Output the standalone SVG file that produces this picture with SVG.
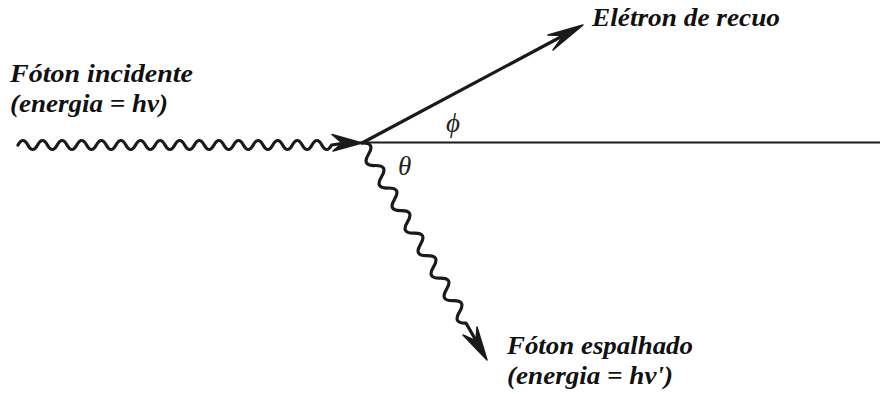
<svg xmlns="http://www.w3.org/2000/svg" width="880" height="394" viewBox="0 0 880 394">
<style>
.lbl{font-family:"Liberation Serif","Times New Roman",serif;font-weight:bold;font-style:italic;font-size:26px;fill:#111}
.ang{font-family:"Liberation Serif","Times New Roman",serif;font-style:italic;font-size:27px;fill:#222}
.wave{fill:none;stroke:#1a1a1a;stroke-width:3.2;stroke-linejoin:round;stroke-linecap:round}
.line{fill:none;stroke:#1a1a1a;stroke-linecap:round}
.head{fill:#1a1a1a;stroke:#1a1a1a;stroke-width:1.5;stroke-linejoin:round}
</style>
<rect width="880" height="394" fill="#fff"/>
<g id="connectors">
  <path class="line" stroke-width="2" d="M360 142.5 H880"/>
  <path class="wave" d="M18 145 q4.9 -9 9.8 0 t9.8 0 t9.8 0 t9.8 0 t9.8 0 t9.8 0 t9.8 0 t9.8 0 t9.8 0 t9.8 0 t9.8 0 t9.8 0 t9.8 0 t9.8 0 t9.8 0 t9.8 0 t9.8 0 t9.8 0 t9.8 0 t9.8 0 t9.8 0 t9.8 0 t9.8 0 t9.8 0 t9.8 0 t9.8 0 t9.8 0 t9.8 0 t9.8 0 t9.8 0 t9.8 0 t9.8 0 L345 143"/>
  <polygon class="head" points="362,143 332,134.5 342,143 333,151"/>
  <path class="line" stroke-width="3.2" d="M362 143 L570 32"/>
  <polygon class="head" points="583,25 548,35 563.5,35.5 553,50"/>
  <g transform="translate(362,143) rotate(60)">
    <path class="wave" d="M0 0 q6.5 -12 13 0 t13 0 t13 0 t13 0 t13 0 t13 0 t13 0 t13 0 t13 0 t13 0 t13 0 t13 0 t13 0 t13 0 t13 0 t13 0 L228 0"/>
  </g>
  <polygon class="head" points="487,360 463,335 476,341 477,327"/>
</g>
<g id="incident-label">
  <text class="lbl" x="10" y="82" textLength="183" lengthAdjust="spacingAndGlyphs">Fóton incidente</text>
  <text class="lbl" x="10" y="112" textLength="158" lengthAdjust="spacingAndGlyphs">(energia = hν)</text>
</g>
<g id="electron-label">
  <text class="lbl" x="592" y="26" textLength="188" lengthAdjust="spacingAndGlyphs">Elétron de recuo</text>
</g>
<g id="scattered-label">
  <text class="lbl" x="507" y="354" textLength="186" lengthAdjust="spacingAndGlyphs">Fóton espalhado</text>
  <text class="lbl" x="507" y="384" textLength="166" lengthAdjust="spacingAndGlyphs">(energia = hν')</text>
</g>
<g id="angles">
  <text class="ang" x="446" y="132">ϕ</text>
  <text class="ang" x="398" y="175">θ</text>
</g>
</svg>
